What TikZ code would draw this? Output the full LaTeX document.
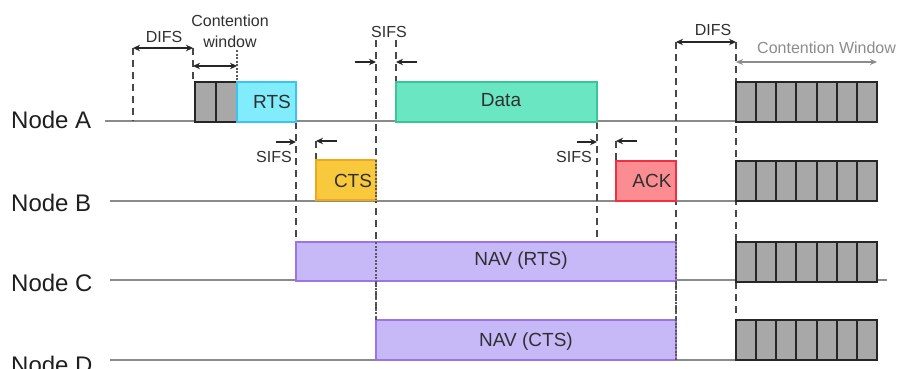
\documentclass[tikz,border=0pt]{standalone}
\usepackage{fontspec}
\setmainfont{Liberation Sans}
\usetikzlibrary{arrows.meta}
\definecolor{rtsfill}{HTML}{80ECFC}
\definecolor{rtsline}{HTML}{3CC4F0}
\definecolor{datafill}{HTML}{6AE6C2}
\definecolor{dataline}{HTML}{38C698}
\definecolor{ctsfill}{HTML}{F8C93C}
\definecolor{ctsline}{HTML}{EFA81C}
\definecolor{ackfill}{HTML}{FA8C92}
\definecolor{ackline}{HTML}{EE3040}
\definecolor{navfill}{HTML}{C7B8F7}
\definecolor{navline}{HTML}{9B74E8}
\definecolor{slotfill}{HTML}{A8A8A8}
\definecolor{tline}{HTML}{8A8A8A}
\definecolor{txt}{HTML}{303030}
\definecolor{cwgray}{HTML}{8C8C8C}
\begin{document}
\begin{tikzpicture}[x=1pt,y=-1pt,
  box/.style={draw, line width=2pt, anchor=north west, inner sep=0pt, outer sep=0pt},
  slot/.style={box, fill=slotfill, draw=black!85, line width=2pt, minimum height=40pt},
  vl/.style={draw=black!72, line width=1.6pt, dash pattern=on 7pt off 5pt},
  vdot/.style={draw=black!65, line width=1.4pt, dash pattern=on 2pt off 1.5pt},
  timeline/.style={draw=tline, line width=1.6pt},
  arr/.style={-{Stealth[length=7pt,width=6.5pt]}, line width=1.4pt, draw=black!85},
  darr/.style={{Stealth[length=7pt,width=6.5pt]}-{Stealth[length=7pt,width=6.5pt]}, line width=1.4pt, draw=black!85},
  small/.style={font=\fontsize{16}{17}\selectfont, text=txt, inner sep=0pt},
  boxlbl/.style={font=\fontsize{19}{20}\selectfont, text=txt, inner sep=0pt},
  nodelbl/.style={font=\fontsize{24}{25}\selectfont, text=black!88, anchor=west, inner sep=0pt}
]
\useasboundingbox (0,0) rectangle (901,368);
\fill[white] (0,0) rectangle (901,368);

% node labels
\node[nodelbl] (na) at (11,120) {Node A};
\node[nodelbl] (nb) at (11,203) {Node B};
\node[nodelbl] (nc) at (11,283) {Node C};
\node[nodelbl] (nd) at (11,365) {Node D};

% time lines
\coordinate (la0) at (105,121); \coordinate (la1) at (736,121);
\coordinate (lb0) at (110,201); \coordinate (lb1) at (736,201);
\coordinate (lc0) at (110,280); \coordinate (lc1) at (887,280);
\coordinate (ld0) at (110,360); \coordinate (ld1) at (736,360);
\draw[timeline] (la0) -- (la1);
\draw[timeline] (lb0) -- (lb1);
\draw[timeline] (lc0) -- (lc1);
\draw[timeline] (ld0) -- (ld1);

% vertical marker coordinates
\coordinate (d1t) at (133,48);  \coordinate (d1b) at (133,121);
\coordinate (d2t) at (193,48);  \coordinate (d2b) at (193,82);
\coordinate (d2m) at (193,66);
\coordinate (cwt) at (237,50);  \coordinate (cwb) at (237,82);
\coordinate (cwm) at (237,66);
\coordinate (s1t) at (376,40);  \coordinate (s1b) at (376,320);
\coordinate (s1m) at (376,62);  \coordinate (s1l) at (355,62);
\coordinate (s2t) at (396,40);  \coordinate (s2b) at (396,82);
\coordinate (s2m) at (396,62);  \coordinate (s2r) at (417,62);
\coordinate (s3t) at (296,122); \coordinate (s3b) at (296,241);
\coordinate (s3m) at (296,142); \coordinate (s3l) at (276,142);
\coordinate (s4t) at (316,141); \coordinate (s4b) at (316,160);
\coordinate (s4r) at (337,141);
\coordinate (s5t) at (597,122); \coordinate (s5b) at (597,240);
\coordinate (s5m) at (597,142); \coordinate (s5l) at (577,142);
\coordinate (s6t) at (616,141); \coordinate (s6b) at (616,161);
\coordinate (s6r) at (637,141);
\coordinate (d3t) at (676,42);  \coordinate (d3b) at (676,360);
\coordinate (d4t) at (736,42);  \coordinate (d4b) at (736,313);
\coordinate (d4m) at (736,62);  \coordinate (cwe) at (877,62);

% dashed verticals
\draw[vl] (d1t) -- (d1b);
\draw[vl] (d2t) -- (d2b);
\draw[vdot] (cwt) -- (cwb);
\draw[vl] (s1t) -- (s1b);
\draw[vl] (s2t) -- (s2b);
\draw[vl] (s3t) -- (s3b);
\draw[vl] (s4t) -- (s4b);
\draw[vl] (s5t) -- (s5b);
\draw[vl] (s6t) -- (s6b);
\draw[vl] (d3t) -- (d3b);
\draw[vl] (d4t) -- (d4b);

% arrows
\draw[darr] (d1t) -- (d2t);
\draw[darr] (d2m) -- (cwm);
\draw[arr] (s1l) -- (s1m);
\draw[arr] (s2r) -- (s2m);
\draw[arr] (s3l) -- (s3m);
\draw[arr] (s4r) -- (s4t);
\draw[arr] (s5l) -- (s5m);
\draw[arr] (s6r) -- (s6t);
\draw[darr] (d3t) -- (d4t);
\draw[{Stealth[length=7pt,width=6pt]}-{Stealth[length=7pt,width=6pt]}, line width=1.2pt, draw=cwgray] (d4m) -- (cwe);

% frames
\node[slot, minimum width=21pt] (cw1) at (195,82) {};
\node[slot, minimum width=21pt] (cw2) at (216,82) {};
\node[box, fill=rtsfill, draw=rtsline, minimum width=59pt, minimum height=40pt] (rts) at (237,82) {};
\node[box, fill=datafill, draw=dataline, minimum width=201pt, minimum height=40pt] (data) at (396,82) {};
\node[box, fill=ctsfill, draw=ctsline, minimum width=60pt, minimum height=40pt] (cts) at (316,160) {};
\node[box, fill=ackfill, draw=ackline, minimum width=60pt, minimum height=40pt] (ack) at (616,161) {};
\node[box, fill=navfill, draw=navline, minimum width=380pt, minimum height=39pt] (navr) at (296,242) {};
\node[box, fill=navfill, draw=navline, minimum width=300pt, minimum height=40pt] (navc) at (376,320) {};
\draw[vdot] (376,160) -- (376,200);
\draw[vdot] (376,242) -- (376,320);
\draw[vdot] (676,242) -- (676,360);

% backoff slots
\foreach \r/\yy in {a/82,b/161,c/242,d/320}{
  \foreach \i in {0,...,6}{
    \node[slot, minimum width=20.14pt] (bo\r\i) at ({736+\i*20.14},\yy) {};
  }
}

% box labels
\node[boxlbl] (trts) at (272,102) {RTS};
\node[boxlbl] (tdata) at (501,100) {Data};
\node[boxlbl] (tcts) at (353,181) {CTS};
\node[boxlbl] (tack) at (652,181) {ACK};
\node[boxlbl] (tnavr) at (521,261) {NAV (RTS)};
\node[boxlbl] (tnavc) at (526,342) {NAV (CTS)};

% small labels
\node[small] (tdifs1) at (164,37) {DIFS};
\node[small] (tcont) at (230,21) {Contention};
\node[small] (twin) at (230,42) {window};
\node[small] (tsifs1) at (389,32) {SIFS};
\node[small] (tsifs2) at (274,157) {SIFS};
\node[small] (tsifs3) at (574,157) {SIFS};
\node[small] (tdifs2) at (713,30) {DIFS};
\node[small, text=cwgray, anchor=west] (tcw) at (757,48) {Contention Window};
\end{tikzpicture}
\end{document}
